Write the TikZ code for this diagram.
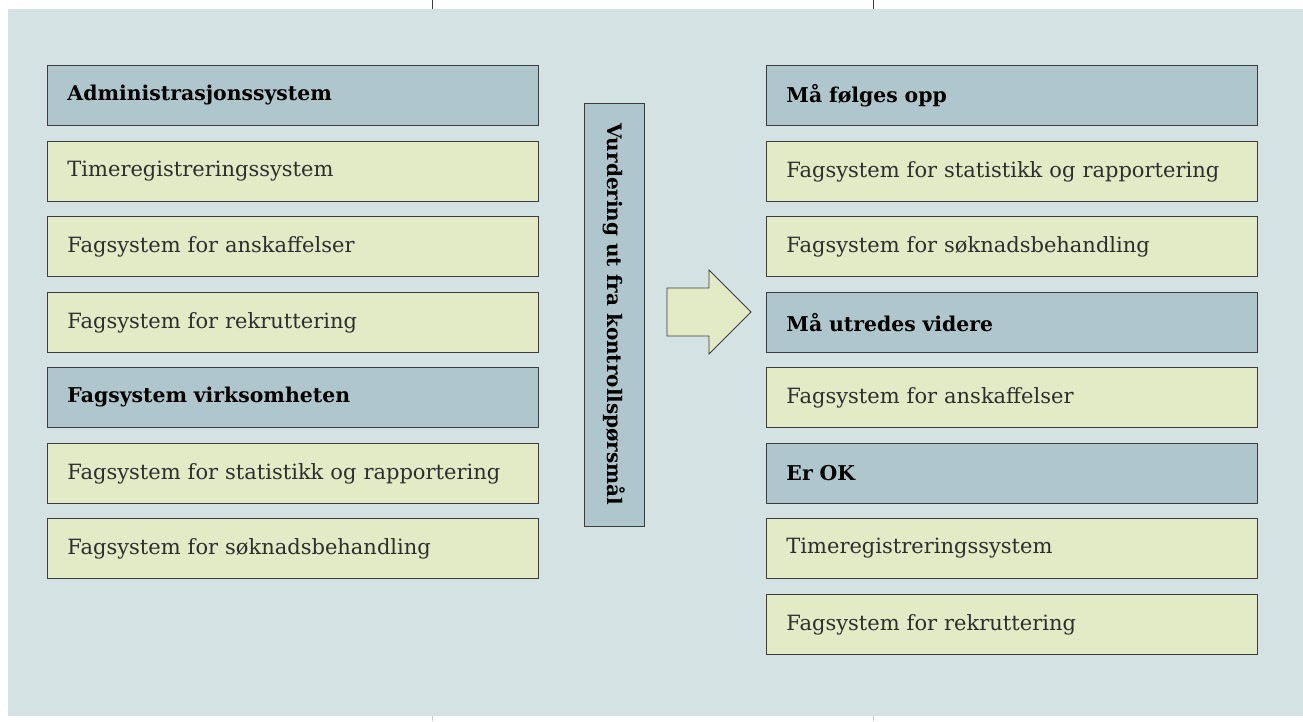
\documentclass[tikz,border=0pt]{standalone}
\usepackage{fontspec}
\setmainfont{DejaVu Serif}
\definecolor{panel}{HTML}{D4E2E4}
\definecolor{headfill}{HTML}{AFC7CC}
\definecolor{itemfill}{HTML}{E2EBC5}
\definecolor{edge}{HTML}{3C3C3C}
\definecolor{txt}{HTML}{2E2E2E}
\tikzset{
  base/.style={draw=edge, line width=0.9pt, minimum width=491pt, minimum height=60pt, anchor=north west,
    text width=451pt, align=left, inner xsep=20pt, text=txt, font=\fontsize{21}{25}\selectfont},
  headbox/.style={base, fill=headfill, text=black, font=\fontsize{20.4}{24}\selectfont\bfseries},
  itembox/.style={base, fill=itemfill},
}
\begin{document}
\begin{tikzpicture}[x=1pt,y=-1pt]
\useasboundingbox (0,0) rectangle (1303,721);
\fill[panel] (8,9) rectangle (1303,716);
\draw[edge, line width=0.8pt] (432,0) -- (432,9);
\draw[edge, line width=0.8pt] (873,0) -- (873,9);
\draw[gray!40, line width=0.8pt] (432,716) -- (432,721);
\draw[gray!40, line width=0.8pt] (873,716) -- (873,721);
% left column
\node[headbox] (l1) at (47,65) {Administrasjonssystem};
\node[itembox] (l2) at (47,141) {Timeregistreringssystem};
\node[itembox] (l3) at (47,216) {Fagsystem for anskaffelser};
\node[itembox] (l4) at (47,292) {Fagsystem for rekruttering};
\node[headbox] (l5) at (47,367) {Fagsystem virksomheten};
\node[itembox] (l6) at (47,443) {Fagsystem for statistikk og rapportering};
\node[itembox] (l7) at (47,518) {Fagsystem for søknadsbehandling};
% middle
\node[draw=edge, line width=0.9pt, fill=headfill, minimum width=423pt, minimum height=60pt,
  rotate=-90, font=\fontsize{20}{24}\selectfont\bfseries] (mid) at (614,314.5) {Vurdering ut fra kontrollspørsmål};
\draw[draw=edge, line width=0.9pt, fill=itemfill] (667,288) -- (709,288) -- (709,270) -- (751,312) -- (709,354) -- (709,336) -- (667,336) -- cycle;
\coordinate (arrowtip) at (751,312);
% right column
\node[headbox] (r1) at (766,65) {Må følges opp};
\node[itembox] (r2) at (766,141) {Fagsystem for statistikk og rapportering};
\node[itembox] (r3) at (766,216) {Fagsystem for søknadsbehandling};
\node[headbox] (r4) at (766,292) {Må utredes videre};
\node[itembox] (r5) at (766,367) {Fagsystem for anskaffelser};
\node[headbox] (r6) at (766,443) {Er OK};
\node[itembox] (r7) at (766,518) {Timeregistreringssystem};
\node[itembox] (r8) at (766,594) {Fagsystem for rekruttering};
\end{tikzpicture}
\end{document}
